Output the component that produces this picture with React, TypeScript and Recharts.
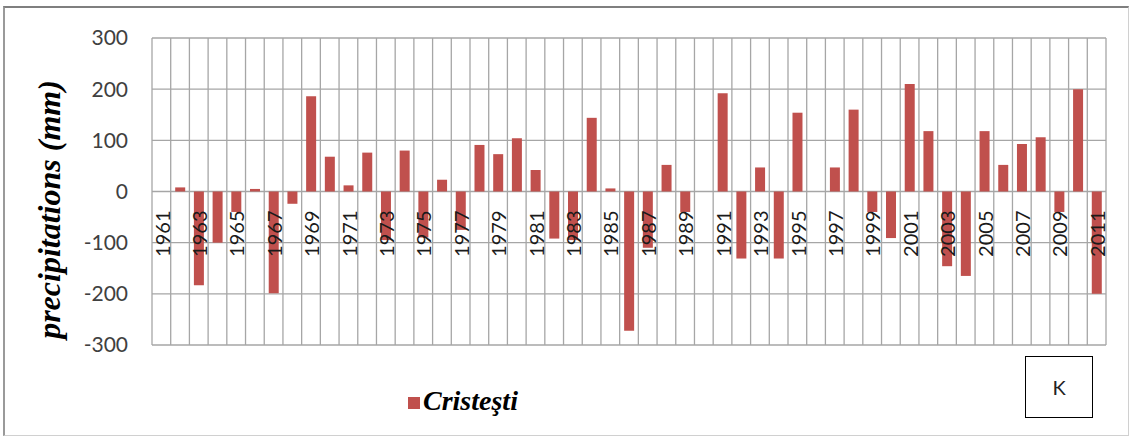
import React from 'react';
import { BarChart, Bar, XAxis, YAxis, CartesianGrid, Label } from 'recharts';

const years = [
  '1961', '1962', '1963', '1964', '1965', '1966', '1967', '1968', '1969', '1970',
  '1971', '1972', '1973', '1974', '1975', '1976', '1977', '1978', '1979', '1980',
  '1981', '1982', '1983', '1984', '1985', '1986', '1987', '1988', '1989', '1990',
  '1991', '1992', '1993', '1994', '1995', '1996', '1997', '1998', '1999', '2000',
  '2001', '2002', '2003', '2004', '2005', '2006', '2007', '2008', '2009', '2010',
  '2011',
];

// precipitation deviation (mm)
const cristesti = [
  0, 8, -183, -100, -40, 5, -199, -24, 186, 68,
  12, 76, -95, 80, -90, 23, -75, 91, 73, 104,
  42, -92, -95, 144, 6, -272, -110, 52, -40, 0,
  192, -131, 47, -131, 154, 0, 47, 160, -40, -91,
  210, 118, -146, -165, 118, 52, 93, 106, -40, 200,
  -200,
];

const yTicks = [-300, -200, -100, 0, 100, 200, 300];

const data = years.map((year, i) => ({ year, value: cristesti[i] }));

const W = 1132;
const H = 439;
const M = { top: 38, right: 26, bottom: 93, left: 92 };
const Y_MIN = -300;
const Y_MAX = 300;
const RED = '#C0504D';
const plotH = H - M.top - M.bottom - 1;
const zeroY = M.top + (plotH * Y_MAX) / (Y_MAX - Y_MIN);

const serif = '"Liberation Serif", "Times New Roman", serif';

const YearTick = (props: any) => {
  const { x, payload } = props;
  return (
    <text
      transform={`translate(${x + 1}, ${zeroY + 19}) rotate(-90)`}
      textAnchor="end"
      dy="0.36em"
      fontFamily="Lato, sans-serif"
      fontSize={20}
      fill="#1a1a1a"
    >
      {payload.value}
    </text>
  );
};

const AxisTitle = (props: any) => {
  const { viewBox } = props;
  const cx = viewBox.x - 32;
  const cy = viewBox.y + viewBox.height / 2 + 18;
  return (
    <text
      transform={`translate(${cx}, ${cy}) rotate(-90)`}
      textAnchor="middle"
      fontFamily={serif}
      fontWeight="bold"
      fontStyle="italic"
      fontSize={32}
      fill="#000"
    >
      precipitations (mm)
    </text>
  );
};

export default function App() {
  return (
    <div style={{ position: 'absolute', left: 0, top: 0, width: W, height: H, background: '#fff' }}>
      <div style={{ position: 'absolute', left: 0, top: 0 }}>
        <BarChart
          width={W}
          height={H}
          data={data}
          margin={M}
          barCategoryGap="24%"
        >
          <CartesianGrid
            stroke="#a6a6a6"
            strokeWidth={1.3}
            verticalCoordinatesGenerator={({ offset }: any) =>
              years.map((_, i) => offset.left + (i * offset.width) / years.length).concat(offset.left + offset.width)
            }
          />
          <XAxis
            dataKey="year"
            interval={1}
            height={1}
            axisLine={false}
            tickLine={false}
            tick={<YearTick />}
          />
          <YAxis
            domain={[Y_MIN, Y_MAX]}
            ticks={yTicks}
            width={60}
            axisLine={false}
            tickLine={false}
            tickSize={0}
            tickMargin={24}
            tick={{ fontFamily: 'Lato, sans-serif', fontSize: 21, fill: '#404040' }}
          >
            <Label content={<AxisTitle />} />
          </YAxis>
          <Bar dataKey="value" name="Cristeşti" fill={RED} isAnimationActive={false} />
        </BarChart>
      </div>
      <div style={{ position: 'absolute', left: 408, top: 385, display: 'flex', alignItems: 'center' }}>
        <div style={{ width: 12, height: 12, background: RED, marginRight: 3, marginTop: 4 }} />
        <span style={{ fontFamily: serif, fontWeight: 'bold', fontStyle: 'italic', fontSize: 28, color: '#000' }}>
          Cristeşti
        </span>
      </div>
      <div
        style={{
          position: 'absolute',
          left: 1025,
          top: 356,
          width: 66,
          height: 60,
          border: '1.5px solid #000',
          display: 'flex',
          alignItems: 'center',
          justifyContent: 'center',
          fontFamily: 'Lato, sans-serif',
          fontSize: 20,
          color: '#222',
        }}
      >
        K
      </div>
      <div
        style={{
          position: 'absolute',
          left: 3,
          top: 6,
          width: 1126,
          height: 430,
          boxSizing: 'border-box',
          borderTop: '2px solid #7f7f7f',
          borderLeft: '2px solid #9a9a9a',
          borderRight: '1px solid #d0d0d0',
          borderBottom: '1px solid #d0d0d0',
          zIndex: 5,
          pointerEvents: 'none',
        }}
      />
    </div>
  );
}
